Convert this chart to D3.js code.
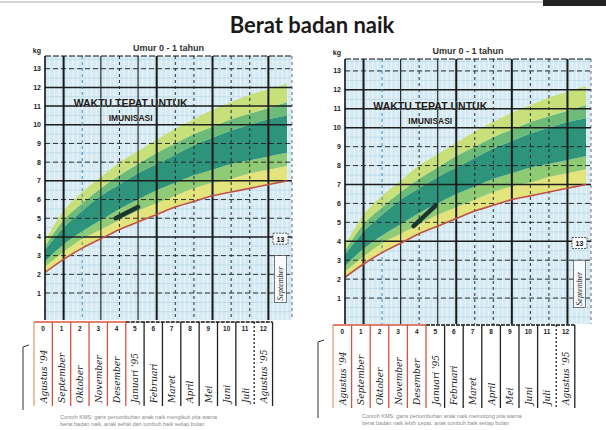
<!DOCTYPE html>
<html>
<head>
<meta charset="utf-8">
<script src="https://cdn.jsdelivr.net/npm/d3@7"></script>
<style>
  html, body { margin: 0; padding: 0; background: #fff; }
  svg { display: block; }
</style>
</head>
<body>
<svg id="chart" width="606" height="430"></svg>
<script>
// ---------------- DATA ----------------
const titleText = "Berat badan naik";
const subtitleText = "Umur 0 - 1 tahun";
const kgLabel = "kg";
const immunisationText = ["WAKTU TEPAT UNTUK", "IMUNISASI"];
const months = [0, 1, 2, 3, 4, 5, 6, 7, 8, 9, 10, 11, 12, 13];
// band boundaries (kg) read at each month
const lowerLine  = [2.1, 2.8, 3.4, 3.9, 4.4, 4.8, 5.2, 5.6, 5.9, 6.2, 6.4, 6.6, 6.8, 7.0];
const yellowTop  = [2.4, 3.2, 3.9, 4.4, 4.9, 5.4, 5.8, 6.2, 6.6, 6.9, 7.1, 7.4, 7.6, 7.8];
const darkBottom = [2.7, 3.6, 4.3, 4.9, 5.5, 6.0, 6.5, 6.9, 7.3, 7.6, 7.9, 8.1, 8.3, 8.5];
const darkTop    = [3.3, 4.5, 5.4, 6.2, 6.8, 7.4, 7.9, 8.4, 8.9, 9.3, 9.7, 10.0, 10.3, 10.5];
const lightTop   = [3.5, 4.9, 5.8, 6.6, 7.3, 7.9, 8.5, 9.0, 9.5, 9.9, 10.3, 10.6, 10.9, 11.2];
const upperLine  = [3.8, 5.4, 6.4, 7.2, 8.0, 8.6, 9.2, 9.8, 10.3, 10.8, 11.2, 11.6, 11.9, 12.2];
const yTicks = [1, 2, 3, 4, 5, 6, 7, 8, 9, 10, 11, 12, 13, 14];
const solidKg = [4, 7, 10, 11, 12];
const thickMonths = [1, 6, 9, 12];
const mediumMonths = [3, 5];
const dashedMonths = [2, 4, 7, 8, 10, 11];
const monthNumbers = [0, 1, 2, 3, 4, 5, 6, 7, 8, 9, 10, 11, 12];
const monthNames = ["Agustus '94", "September", "Oktober", "November", "Desember", "Januari '95",
                    "Februari", "Maret", "April", "Mei", "Juni", "Juli", "Agustus '95"];
const nextMonthNumber = "13";
const nextMonthName = "September";
// child's weight (month, kg) in each card
const childMonthsLeft = [3.8, 5.0];
const childKgLeft = [5.0, 5.6];
const childMonthsRight = [3.7, 4.9];
const childKgRight = [4.8, 5.9];
const footerLeft = ["Contoh KMS: garis pertumbuhan anak naik mengikuti pita warna", "berat badan naik, anak sehat dan tumbuh baik setiap bulan"];
const footerRight = ["Contoh KMS: garis pertumbuhan anak naik memotong pita warna", "berat badan naik lebih cepat, anak tumbuh baik setiap bulan"];

// ---------------- LAYOUT ----------------
const svg = d3.select("#chart");

// scan artefacts at top
svg.append("line").attr("x1", 0).attr("x2", 545).attr("y1", 2).attr("y2", 2)
  .attr("stroke", "#c8c8c8").attr("stroke-width", 1.5);
svg.append("rect").attr("x", 543).attr("y", 0).attr("width", 63).attr("height", 6).attr("fill", "#222");

svg.append("text").attr("x", 312).attr("y", 33).attr("text-anchor", "middle")
  .attr("font-family", "Lato, 'Open Sans', sans-serif").attr("font-weight", "bold")
  .attr("font-size", 22).attr("fill", "#1a1a1a").text(titleText);

const panels = [
  { px0: 45, px13: 287, right: 292, top: 56, bottom: 320, y0: 311.7, y14: 50,
    tx0: 34, tw: 18.35, ty0: 322, ty1: 406, bracketX: 23, bracketY0: 345, bracketY1: 410,
    childM: childMonthsLeft, childKg: childKgLeft, footer: footerLeft, footX: 60, footY: 419 },
  { px0: 345, px13: 586, right: 591, top: 59, bottom: 324, y0: 317, y14: 52,
    tx0: 333, tw: 18.6, ty0: 325, ty1: 408, bracketX: 318, bracketY0: 340, bracketY1: 418,
    childM: childMonthsRight, childKg: childKgRight, footer: footerRight, footX: 362, footY: 418 }
];

panels.forEach((p, pi) => {
  const g = svg.append("g");
  const x = d3.scaleLinear().domain([0, 13]).range([p.px0, p.px13]);
  const y = d3.scaleLinear().domain([0, 14]).range([p.y0, p.y14]);
  const clipId = "clip" + pi;
  g.append("clipPath").attr("id", clipId).append("rect")
    .attr("x", p.px0).attr("y", p.top).attr("width", p.right - p.px0).attr("height", p.bottom - p.top);

  // background
  g.append("rect").attr("x", p.px0).attr("y", p.top).attr("width", p.right - p.px0)
    .attr("height", p.bottom - p.top).attr("fill", "#d6eaf3");
  const bg = g.append("g").attr("clip-path", `url(#${clipId})`);
  // fine vertical stripes
  bg.selectAll("line.vs").data(d3.range(0, 13.5, 0.25)).join("line")
    .attr("x1", d => x(d)).attr("x2", d => x(d)).attr("y1", p.top).attr("y2", p.bottom)
    .attr("stroke", "#edf7fb").attr("stroke-width", 1);
  // fine horizontal lines
  bg.selectAll("line.hs").data(d3.range(0, 14.5, 0.5)).join("line")
    .attr("x1", p.px0).attr("x2", p.right).attr("y1", d => y(d)).attr("y2", d => y(d))
    .attr("stroke", "#b4d6e6").attr("stroke-width", 0.7);

  // bands
  const bands = [
    [lowerLine, yellowTop, "#e4e47c"],
    [yellowTop, darkBottom, "#8fcb74"],
    [darkBottom, darkTop, "#2d937a"],
    [darkTop, lightTop, "#6cbb78"],
    [lightTop, upperLine, "#c8e07a"]
  ];
  bands.forEach(([lo, hi, col]) => {
    const area = d3.area().curve(d3.curveMonotoneX)
      .x((d, i) => x(months[i])).y0((d, i) => y(lo[i])).y1((d, i) => y(hi[i]));
    bg.append("path").datum(months).attr("d", area).attr("fill", col);
  });

  // horizontal grid
  bg.selectAll("line.hg").data(yTicks).join("line")
    .attr("x1", p.px0).attr("x2", p.right).attr("y1", d => y(d)).attr("y2", d => y(d))
    .attr("stroke", "#1e1e1e")
    .attr("stroke-width", d => solidKg.includes(d) ? 1.5 : 0.9)
    .attr("stroke-dasharray", d => solidKg.includes(d) ? null : "5,3");
  // vertical grid
  bg.selectAll("line.vt").data(thickMonths).join("line")
    .attr("x1", d => x(d)).attr("x2", d => x(d)).attr("y1", p.top).attr("y2", p.bottom)
    .attr("stroke", "#1a1a1a").attr("stroke-width", 2);
  bg.selectAll("line.vm").data(mediumMonths).join("line")
    .attr("x1", d => x(d)).attr("x2", d => x(d)).attr("y1", p.top).attr("y2", p.bottom)
    .attr("stroke", "#2a2a2a").attr("stroke-width", 1.2);
  bg.selectAll("line.vd").data(dashedMonths).join("line")
    .attr("x1", d => x(d)).attr("x2", d => x(d)).attr("y1", p.top).attr("y2", p.bottom)
    .attr("stroke", d => d === 2 ? "#3d8fb8" : "#2a2a2a").attr("stroke-width", 1)
    .attr("stroke-dasharray", "3,3");

  // lower red line
  const line = d3.line().curve(d3.curveMonotoneX).x((d, i) => x(months[i])).y(d => y(d));
  bg.append("path").datum(lowerLine).attr("d", line).attr("fill", "none")
    .attr("stroke", "#c0504a").attr("stroke-width", 1.6);

  // child's growth line
  const childLine = d3.line().x((d, i) => x(p.childM[i])).y(d => y(d));
  bg.append("path").datum(p.childKg).attr("d", childLine).attr("fill", "none")
    .attr("stroke", "#1d3530").attr("stroke-width", 4.5).attr("stroke-linecap", "round");

  // borders
  g.append("line").attr("x1", p.px0).attr("x2", p.px0).attr("y1", p.top).attr("y2", p.bottom)
    .attr("stroke", "#111").attr("stroke-width", 1.6);
  g.append("line").attr("x1", p.px0).attr("x2", p.right).attr("y1", p.top).attr("y2", p.top)
    .attr("stroke", "#111").attr("stroke-width", 1.2).attr("stroke-dasharray", "6,2");
  g.append("line").attr("x1", p.right).attr("x2", p.right).attr("y1", p.top).attr("y2", p.bottom)
    .attr("stroke", "#444").attr("stroke-width", 0.8).attr("stroke-dasharray", "3,3");

  // y tick labels
  g.selectAll("text.yt").data(yTicks).join("text")
    .attr("x", p.px0 - 4).attr("y", d => y(d) + 2.5).attr("text-anchor", "end")
    .attr("font-family", "'Liberation Sans', Arial, sans-serif").attr("font-weight", "bold")
    .attr("font-size", 7).attr("fill", "#222").text(d => d === 14 ? kgLabel : d);

  // subtitle
  g.append("text").attr("x", (p.px0 + p.right) / 2).attr("y", p.top - 5).attr("text-anchor", "middle")
    .attr("font-family", "'Liberation Sans', Arial, sans-serif").attr("font-weight", "bold")
    .attr("font-size", 9).attr("fill", "#333").text(subtitleText);

  // immunisation text
  const cx = x(4.6);
  immunisationText.forEach((t, i) => {
    g.append("text").attr("x", cx).attr("y", y(10.95) + i * 14).attr("text-anchor", "middle")
      .attr("font-family", "'Liberation Sans', Arial, sans-serif").attr("font-weight", "900")
      .attr("font-size", i === 0 ? 10.5 : 8.5).attr("fill", "#1a1a1a")
      .attr("stroke", "#f4f4f4").attr("stroke-width", 0.35).attr("paint-order", "stroke")
      .text(t);
  });

  // next month box "13" and "September"
  const nx = x(12.65);
  g.append("rect").attr("x", nx - 7.5).attr("y", y(4.2)).attr("width", 15).attr("height", 11)
    .attr("fill", "#f7fbfd").attr("stroke", "#333").attr("stroke-width", 0.8).attr("stroke-dasharray", "2,1");
  g.append("text").attr("x", nx).attr("y", y(4.2) + 8.5).attr("text-anchor", "middle")
    .attr("font-family", "'Liberation Sans', Arial, sans-serif").attr("font-weight", "bold")
    .attr("font-size", 7).attr("fill", "#111").text(nextMonthNumber);
  g.append("rect").attr("x", nx - 6).attr("y", y(3.0)).attr("width", 12).attr("height", y(0.5) - y(3.0))
    .attr("fill", "#f7fbfd").attr("stroke", "#444").attr("stroke-width", 0.7);
  g.append("text").attr("transform", `translate(${nx + 2.5},${y(0.6)}) rotate(-90)`)
    .attr("font-family", "'Liberation Serif', serif").attr("font-style", "italic")
    .attr("font-size", 8).attr("fill", "#222").text(nextMonthName);

  // table
  const tx = i => p.tx0 + i * p.tw;
  const tg = g.append("g");
  tg.append("line").attr("x1", tx(0)).attr("x2", tx(5)).attr("y1", p.ty0).attr("y2", p.ty0)
    .attr("stroke", "#d9533c").attr("stroke-width", 1.4);
  tg.append("line").attr("x1", tx(5)).attr("x2", tx(13)).attr("y1", p.ty0).attr("y2", p.ty0)
    .attr("stroke", "#111").attr("stroke-width", 1.4).attr("stroke-dasharray", "4,1");
  tg.selectAll("line.cb").data(d3.range(0, 14)).join("line")
    .attr("x1", d => tx(d)).attr("x2", d => tx(d)).attr("y1", p.ty0).attr("y2", p.ty1)
    .attr("stroke", d => d <= 5 ? (d === 0 ? "#e0a070" : "#d9533c") : "#222")
    .attr("stroke-width", 1.3)
    .attr("stroke-dasharray", d => d === 12 ? "2,2" : null);
  tg.selectAll("text.mn").data(monthNumbers).join("text")
    .attr("x", d => tx(d) + p.tw / 2).attr("y", p.ty0 + 9).attr("text-anchor", "middle")
    .attr("font-family", "'Liberation Sans', Arial, sans-serif").attr("font-weight", "bold")
    .attr("font-size", 6.5).attr("fill", "#222").text(d => d);
  tg.selectAll("text.mname").data(monthNames).join("text")
    .attr("transform", (d, i) => `translate(${tx(i) + p.tw / 2 + 3.5},${p.ty1 - 3}) rotate(-90)`)
    .attr("font-family", "'DejaVu Serif', serif").attr("font-style", "italic")
    .attr("font-size", 9).attr("fill", "#1c1c1c").text(d => d);

  // bracket
  tg.append("path")
    .attr("d", `M${p.bracketX + 6},${p.bracketY0} L${p.bracketX},${p.bracketY0 + 2} L${p.bracketX},${p.bracketY1}`)
    .attr("fill", "none").attr("stroke", "#333").attr("stroke-width", 1);

  // footer caption
  p.footer.forEach((t, i) => {
    g.append("text").attr("x", p.footX).attr("y", p.footY + i * 7)
      .attr("font-family", "'Liberation Sans', Arial, sans-serif").attr("font-size", 5.5)
      .attr("fill", "#8a8a8a").text(t);
  });
});
</script>
</body>
</html>
